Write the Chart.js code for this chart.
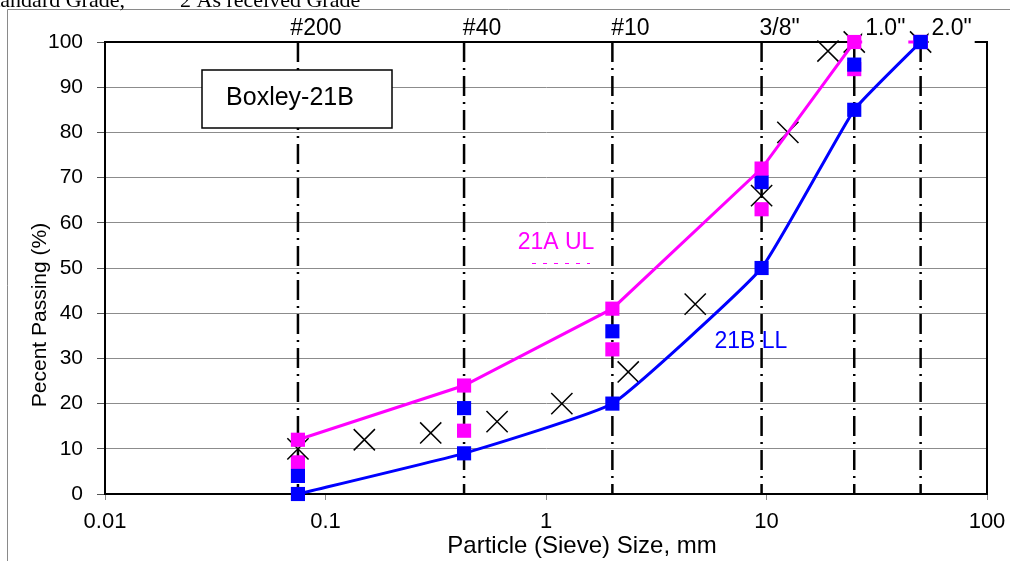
<!DOCTYPE html>
<html>
<head>
<meta charset="utf-8">
<script src="https://cdn.jsdelivr.net/npm/chart.js@4.4.0/dist/chart.umd.min.js"></script>
<style>
  body { margin: 0; background: #fff; }
  #wrap { position: relative; width: 1010px; height: 561px; }
</style>
</head>
<body>
<div id="wrap"><canvas id="grading" width="1010" height="561"></canvas></div>
<script>
// sieve openings (mm) and their names
const sieveSizes = [0.075, 0.425, 2, 9.5, 25, 50];
const sieveLabels = ['#200', '#40', '#10', '3/8"', '1.0"', '2.0"'];

// percent passing for the grade band limits
const upper21A = [12, 24, 41, 72, 100, 100];
const lower21A = [7, 14, 32, 63, 94, 100];
const upper21B = [4, 19, 36, 69, 95, 100];
const lower21B = [0, 9, 20, 50, 85, 100];

// as received sample
const receivedSizes = [0.075, 0.15, 0.3, 0.6, 1.18, 2.36, 4.75, 9.5, 12.5, 19, 25, 50];
const receivedPassing = [10, 12, 13.5, 16, 20, 27, 42, 66, 80, 98, 100, 100];

const xTickValues = [0.01, 0.1, 1, 10, 100];
const yMin = 0, yMax = 100, yStep = 10;

const MAGENTA = '#ff00ff';
const BLUE = '#0000ff';

function pts(xs, ys) {
    return xs.map((x, i) => ({ x: x, y: ys[i] }));
}

function squares(label, color, ys, withLine) {
    return {
        label: label,
        data: pts(sieveSizes, ys),
        showLine: withLine,
        borderColor: color,
        borderWidth: 3,
        backgroundColor: color,
        pointStyle: 'rect',
        pointRadius: 10,
        pointBorderWidth: 0,
        pointBackgroundColor: color,
        tension: 0,
        clip: false
    };
}

const datasets = [
    Object.assign(squares('21B LL', BLUE, lower21B, true), { tension: 0.12 }),
    squares('21A UL', MAGENTA, upper21A, true),
    squares('21B UL', BLUE, upper21B, false),
    {
        label: 'As received',
        data: pts(receivedSizes, receivedPassing),
        showLine: false,
        pointStyle: 'crossRot',
        pointRadius: 15,
        pointBorderColor: '#000',
        pointBorderWidth: 1.5,
        clip: false
    },
    squares('21A LL', MAGENTA, lower21A, false)
];

// dash-dot sieve lines
sieveSizes.forEach(s => {
    datasets.push({
        label: 'sieve',
        data: [{ x: s, y: yMax }, { x: s, y: yMin }],
        showLine: true,
        borderColor: '#000',
        borderWidth: 2.5,
        borderDash: [20, 6, 2, 6],
        pointRadius: 0,
        clip: false
    });
});

const decor = {
    id: 'decor',
    beforeDraw(chart) {
        const ctx = chart.ctx;
        ctx.save();
        ctx.fillStyle = '#fff';
        ctx.fillRect(0, 0, chart.width, chart.height);
        // outer frame, only its top-left corner shows
        ctx.strokeStyle = '#8a8a8a';
        ctx.lineWidth = 1;
        ctx.beginPath();
        ctx.moveTo(7.5, chart.height);
        ctx.lineTo(7.5, 9.5);
        ctx.lineTo(chart.width, 9.5);
        ctx.stroke();
        // heading that is cut off at the top
        ctx.fillStyle = '#000';
        ctx.font = '22px "Liberation Serif"';
        ctx.textBaseline = 'alphabetic';
        ctx.fillText('Standard Grade,', -18, 7);
        ctx.fillText('\u201D', 166, 7);
        ctx.fillText('2 As received Grade', 180, 7);
        ctx.restore();
    },
    beforeDatasetsDraw(chart) {
        const { ctx, chartArea: a } = chart;
        ctx.save();
        ctx.strokeStyle = '#000';
        ctx.lineWidth = 2;
        ctx.beginPath();
        ctx.moveTo(a.left, a.top);
        ctx.lineTo(a.right, a.top);
        ctx.lineTo(a.right, a.bottom);
        ctx.stroke();
        ctx.restore();
    },
    afterDatasetsDraw(chart) {
        const { ctx, scales: { x, y } } = chart;
        ctx.save();

        // sieve names above the plot
        ctx.font = '23px "Liberation Sans"';
        ctx.textAlign = 'center';
        ctx.textBaseline = 'middle';
        sieveSizes.forEach((s, i) => {
            const cx = x.getPixelForValue(s) + (i >= 4 ? 31 : 18);
            const w = ctx.measureText(sieveLabels[i]).width;
            if (i >= 4) {
                ctx.fillStyle = '#fff';
                ctx.fillRect(cx - w / 2 - 3, 17, w + 6, 28);
            }
            ctx.fillStyle = '#000';
            ctx.fillText(sieveLabels[i], cx, 29);
        });

        // sample name box
        const bx = 202, by = 70, bw = 190, bh = 58;
        ctx.fillStyle = '#fff';
        ctx.fillRect(bx, by, bw, bh);
        ctx.strokeStyle = '#000';
        ctx.lineWidth = 1.5;
        ctx.strokeRect(bx, by, bw, bh);
        ctx.fillStyle = '#000';
        ctx.font = '25px "Liberation Sans"';
        ctx.fillText('Boxley-21B', 290, 98);

        // band labels
        ctx.font = '23px "Liberation Sans"';
        ctx.fillStyle = MAGENTA;
        ctx.fillText('21A UL', x.getPixelForValue(1.11), y.getPixelForValue(55.5));
        ctx.strokeStyle = MAGENTA;
        ctx.lineWidth = 1;
        ctx.setLineDash([4, 7]);
        ctx.beginPath();
        ctx.moveTo(532, 263.5);
        ctx.lineTo(590, 263.5);
        ctx.stroke();
        ctx.setLineDash([]);
        ctx.fillStyle = BLUE;
        ctx.fillText('21B LL', x.getPixelForValue(8.5), y.getPixelForValue(33.8));

        // axis titles
        ctx.fillStyle = '#000';
        ctx.font = '24px "Liberation Sans"';
        ctx.fillText('Particle (Sieve) Size, mm', 582, 546);
        ctx.font = '21px "Liberation Sans"';
        ctx.translate(40, 315);
        ctx.rotate(-Math.PI / 2);
        ctx.fillText('Pecent Passing (%)', 0, 0);
        ctx.restore();
    }
};

new Chart(document.getElementById('grading'), {
    type: 'scatter',
    data: { datasets: datasets },
    plugins: [decor],
    options: {
        responsive: false,
        animation: false,
        layout: { padding: { top: 42, right: 23, left: 0, bottom: 0 } },
        plugins: {
            legend: { display: false },
            tooltip: { enabled: false }
        },
        scales: {
            x: {
                type: 'logarithmic',
                min: 0.01,
                max: 100,
                afterBuildTicks: s => { s.ticks = xTickValues.map(v => ({ value: v })); },
                afterFit: s => { s.height = 67; s.paddingLeft = 0; s.paddingRight = 0; },
                ticks: {
                    color: '#000',
                    padding: 9,
                    maxRotation: 0,
                    autoSkip: false,
                    font: { family: 'Liberation Sans', size: 22 },
                    callback: v => String(v)
                },
                grid: {
                    drawOnChartArea: false,
                    color: '#888',
                    tickLength: 6
                },
                border: { color: '#000', width: 2 }
            },
            y: {
                min: yMin,
                max: yMax,
                afterFit: s => { s.width = 105; },
                ticks: {
                    stepSize: yStep,
                    color: '#000',
                    padding: 14,
                    font: { family: 'Liberation Sans', size: 21 }
                },
                grid: {
                    color: '#8c8c8c',
                    lineWidth: 1,
                    tickLength: 8,
                    tickColor: '#555'
                },
                border: { color: '#000', width: 2 }
            }
        }
    }
});
</script>
</body>
</html>
